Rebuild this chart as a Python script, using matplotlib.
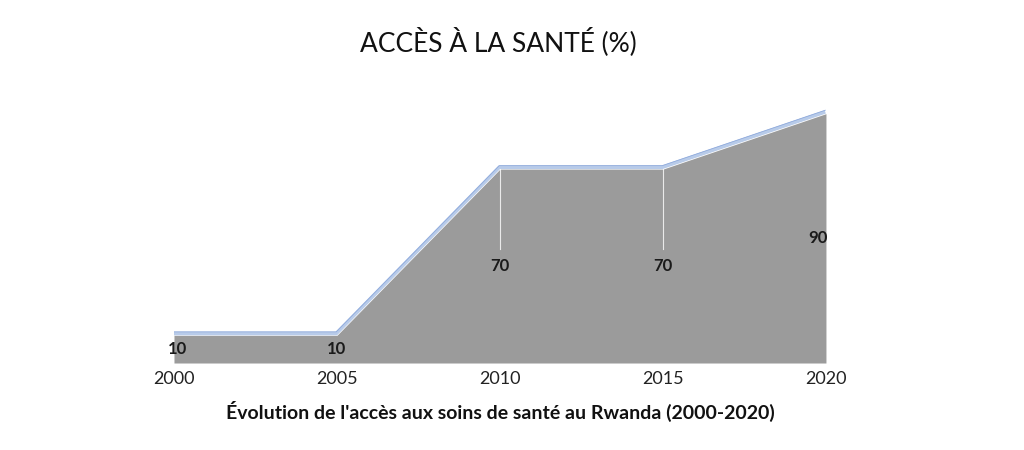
import matplotlib.pyplot as plt
import matplotlib.transforms as mtransforms

# data
years = [2000, 2005, 2010, 2015, 2020]
acces = [10, 10, 70, 70, 90]
labels = ["10", "10", "70", "70", "90"]

plt.rcParams['font.family'] = ['Lato', 'DejaVu Sans']

fig = plt.figure(figsize=(10.24, 4.5), dpi=100)
ax = fig.add_axes([0.1699, 0.1933, 0.6367, 0.6156])

ax.fill_between(years, acces, 0, color='#9b9b9b', linewidth=0)

# light blue top edge, shifted a bit up for the 3D look
shift = mtransforms.offset_copy(ax.transData, fig=fig, x=-0.5, y=1.3, units='points')
ax.plot(years, acces, color='#b8cbe9', linewidth=2.6, transform=shift,
        solid_joinstyle='miter', solid_capstyle='butt')
ax.plot(years, acces, color='#8faadc', linewidth=0.6, transform=mtransforms.offset_copy(
    ax.transData, fig=fig, x=-0.5, y=2.5, units='points'))

# thin white lines at the inner points
for x, v in zip(years[2:4], acces[2:4]):
    ax.plot([x, x], [v, v / 2 + 6], color='white', linewidth=0.8, alpha=0.8)

# value labels at mid-height
for i, (x, v, t) in enumerate(zip(years, acces, labels)):
    dx = 0.1 if i == 0 else (-0.25 if i == len(years) - 1 else 0)
    ax.text(x + dx, v / 2, t, ha='center', va='center', fontsize=12,
            fontweight='bold', color='#1a1a1a')

ax.set_xlim(2000, 2020)
ax.set_ylim(0, 100)
ax.set_xticks(years)
ax.set_xticklabels([str(y) for y in years], fontsize=13, color='#222222')
ax.tick_params(axis='x', length=0, pad=6)
ax.set_yticks([])
for s in ax.spines.values():
    s.set_visible(False)

ax.set_xlabel("Évolution de l'accès aux soins de santé au Rwanda (2000-2020)",
              fontsize=14, fontweight='bold', labelpad=10, color='#111111')
fig.text(0.487, 0.907, "ACCÈS À LA SANTÉ (%)", ha='center', va='center',
         fontsize=19, color='#111111')

fig.savefig('out.png', dpi=100)
